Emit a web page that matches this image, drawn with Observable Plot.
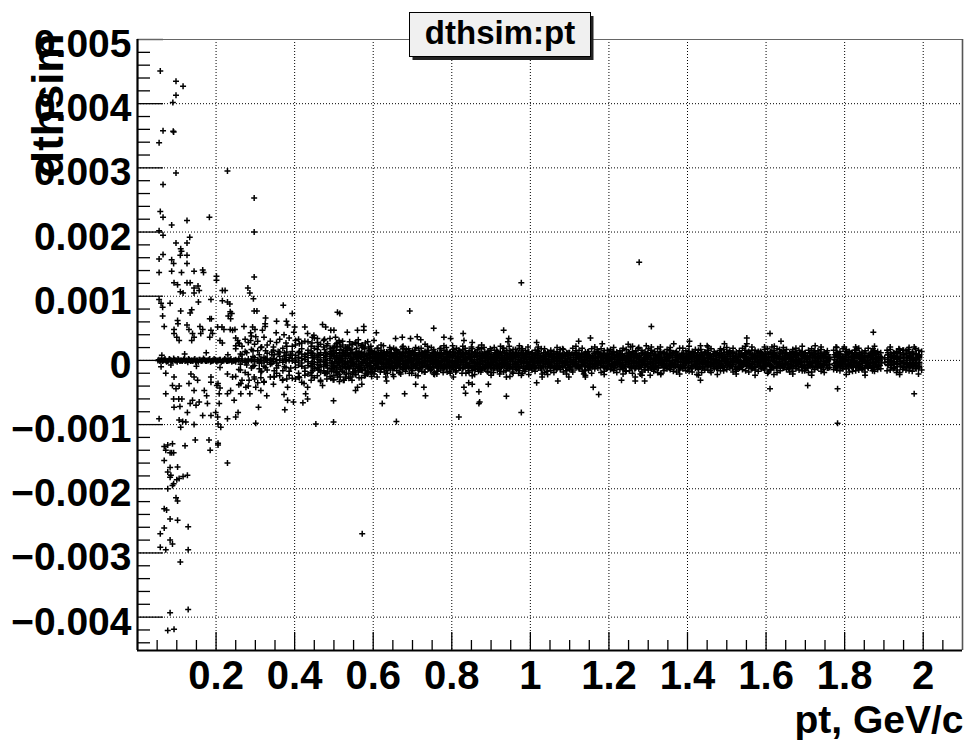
<!DOCTYPE html>
<html>
<head>
<meta charset="utf-8">
<script src="https://cdn.jsdelivr.net/npm/d3@7"></script>
<script src="https://cdn.jsdelivr.net/npm/@observablehq/plot@0.6"></script>
<style>
  html, body { margin: 0; padding: 0; background: white; }
  #chart { width: 965px; height: 740px; }
</style>
</head>
<body>
<div id="chart"></div>
<script>
// ---- Data (dthsim values stored in units of 1e-5) ----
const titleText = "dthsim:pt";
const xTitle = "pt, GeV/c";
const yTitle = "dthsim";
const xDomain = [0, 2.1];
const yDomain = [-0.00452, 0.005];
const xMajorTicks = [0.2, 0.4, 0.6, 0.8, 1.0, 1.2, 1.4, 1.6, 1.8, 2.0];
const xMinorTicks = [0.05, 0.1, 0.15, 0.25, 0.3, 0.35, 0.45, 0.5, 0.55, 0.65, 0.7, 0.75, 0.85, 0.9, 0.95, 1.05, 1.1, 1.15, 1.25, 1.3, 1.35, 1.45, 1.5, 1.55, 1.65, 1.7, 1.75, 1.85, 1.9, 1.95, 2.05];
const yMajorTicks = [-0.004, -0.003, -0.002, -0.001, 0, 0.001, 0.002, 0.003, 0.004, 0.005];
const yMinorTicks = [-0.0044, -0.0042, -0.0038, -0.0036, -0.0034, -0.0032, -0.0028, -0.0026, -0.0024, -0.0022, -0.0018, -0.0016, -0.0014, -0.0012, -0.0008, -0.0006, -0.0004, -0.0002, 0.0002, 0.0004, 0.0006, 0.0008, 0.0012, 0.0014, 0.0016, 0.0018, 0.0022, 0.0024, 0.0026, 0.0028, 0.0032, 0.0034, 0.0036, 0.0038, 0.0042, 0.0044, 0.0046, 0.0048];

// isolated points [pt, dthsim*1e5]
const sparsePoints = [
[0.058,451],[0.098,435],[0.116,427],[0.098,413],[0.090,402],[0.065,358],[0.091,357],[0.092,356],[0.055,339],[0.098,292],
[0.229,295],[0.065,274],[0.297,253],[0.058,232],[0.065,223],[0.126,218],[0.183,223],[0.087,211],[0.055,202],[0.065,195],
[0.297,200],[0.098,183],[0.126,183],[0.133,192],[0.110,174],[0.065,165],[0.055,158],[0.112,170],[0.109,164],[0.087,157],
[0.092,151],[0.126,164],[0.126,151],[0.055,137],[0.087,139],[0.112,137],[0.144,139],[0.166,141],[0.168,137],[0.093,121],
[0.102,118],[0.126,121],[0.134,121],[0.154,116],[0.157,109],[0.109,107],[0.116,105],[0.144,113],[0.144,105],[0.201,131],
[0.201,125],[0.297,130],[0.281,113],[0.286,105],[0.295,96],[0.216,109],[0.223,109],[0.216,93],[0.229,91],[0.235,88],
[0.187,95],[0.055,95],[0.060,89],[0.083,89],[0.155,91],[0.064,83],[0.138,79],[0.134,74],[0.110,77],[0.297,77],
[0.304,77],[0.371,86],[0.394,73],[0.236,76],[0.240,73],[0.064,69],[0.068,53],[0.102,62],[0.103,57],[0.093,48],
[0.126,55],[0.131,48],[0.184,65],[0.188,65],[0.231,69],[0.237,65],[0.326,66],[0.325,57],[0.354,61],[0.379,61],
[0.159,53],[0.166,48],[0.161,42],[0.204,52],[0.215,52],[0.220,48],[0.236,48],[0.242,47],[0.248,48],[0.271,53],
[0.293,52],[0.299,48],[0.325,53],[0.318,47],[0.382,55],[0.400,52],[0.398,44],[0.353,43],[0.373,40],[0.288,43],
[0.301,37],[0.288,31],[0.093,42],[0.100,36],[0.106,31],[0.140,42],[0.144,36],[0.138,31],[0.187,47],[0.191,42],
[0.184,36],[0.210,31],[0.216,27],[0.255,31],[0.259,26],[0.250,23],[0.426,52],[0.433,42],[0.445,36],[0.449,39],
[0.458,34],[0.471,56],[0.479,52],[0.492,47],[0.509,75],[0.515,73],[0.500,47],[0.504,36],[0.513,31],[0.534,44],
[0.560,47],[0.576,53],[0.576,47],[0.608,43],[0.602,31],[0.693,77],[0.754,50],[0.657,34],[0.674,36],[0.695,34],
[0.712,37],[0.721,32],[0.780,36],[0.797,34],
[0.060,-10],[0.072,-20],[0.093,-26],[0.089,-39],[0.098,-44],[0.106,-40],[0.072,-52],[0.092,-60],[0.105,-60],[0.113,-60],
[0.108,-72],[0.093,-73],[0.136,-21],[0.144,-26],[0.153,-31],[0.131,-36],[0.144,-47],[0.140,-62],[0.127,-81],[0.134,-67],
[0.157,-65],[0.149,-70],[0.055,-91],[0.106,-93],[0.115,-95],[0.110,-104],[0.123,-96],[0.144,-100],[0.166,-86],[0.187,-86],
[0.178,-67],[0.170,-47],[0.176,-55],[0.187,-34],[0.187,-26],[0.202,-39],[0.205,-36],[0.210,-43],[0.208,-52],[0.199,-81],
[0.204,-88],[0.205,-99],[0.212,-104],[0.229,-91],[0.250,-88],[0.256,-81],[0.208,-67],[0.229,-52],[0.237,-47],[0.246,-62],
[0.263,-52],[0.276,-42],[0.286,-52],[0.229,-21],[0.242,-26],[0.263,-36],[0.284,-31],[0.297,-26],[0.301,-42],[0.314,-47],
[0.322,-34],[0.329,-55],[0.308,-73],[0.301,-98],[0.348,-26],[0.369,-31],[0.382,-42],[0.373,-53],[0.382,-62],[0.375,-77],
[0.397,-65],[0.411,-26],[0.424,-36],[0.433,-42],[0.428,-52],[0.433,-60],[0.421,-66],[0.454,-99],[0.466,-31],[0.471,-39],
[0.499,-63],[0.499,-96],[0.509,-26],[0.526,-31],[0.543,-26],[0.560,-42],[0.571,-37],[0.555,-47],[0.610,-26],[0.632,-26],
[0.634,-32],[0.623,-67],[0.634,-55],[0.659,-95],[0.670,-21],[0.680,-52],[0.708,-37],[0.729,-42],[0.733,-55],[0.754,-21],
[0.818,-88],
[0.068,-134],[0.072,-140],[0.089,-130],[0.087,-144],[0.068,-156],[0.077,-174],[0.085,-179],[0.102,-166],[0.106,-184],[0.121,-133],
[0.147,-124],[0.182,-124],[0.205,-129],[0.205,-132],[0.185,-140],[0.229,-160],[0.077,-132],[0.083,-144],[0.092,-144],[0.083,-167],
[0.083,-182],[0.100,-186],[0.092,-192],[0.089,-195],[0.116,-181],[0.127,-179],[0.077,-200],[0.098,-214],[0.102,-219],[0.068,-231],
[0.074,-233],[0.083,-247],[0.102,-249],[0.129,-259],[0.068,-261],[0.058,-270],[0.083,-280],[0.089,-286],[0.058,-291],[0.072,-295],
[0.129,-295],[0.109,-314],[0.572,-270],[0.083,-393],[0.129,-388],[0.077,-421],[0.093,-419],
[0.977,121],[1.277,153],[1.308,53],[0.829,42],[0.932,47],[0.945,34],[0.943,29],[0.852,28],[0.831,31],[1.016,28],
[1.123,30],[1.153,35],[1.183,26],[1.249,25],[1.255,21],[1.295,23],[1.331,21],[1.365,26],[1.405,30],[1.433,23],
[1.450,23],[1.494,26],[1.551,35],[1.551,26],[1.610,42],[1.615,21],
[0.831,-42],[0.835,-51],[0.843,-35],[0.852,-37],[0.869,-49],[0.871,-65],[0.869,-67],[0.893,-37],[0.939,-56],[0.939,-26],
[0.977,-81],[0.977,-23],[1.016,-35],[1.030,-21],[1.030,-26],[1.070,-32],[1.098,-26],[1.136,-21],[1.140,-26],[1.160,-42],
[1.174,-53],[1.232,-31],[1.267,-32],[1.267,-26],[1.280,-21],[1.291,-32],[1.305,-23],[1.424,-22],[1.433,-31],[1.610,-44],
[1.606,-18],
[1.638,30],[1.621,22],[1.564,21],[1.668,17],[1.725,23],[1.778,21],[1.799,21],[1.831,18],[1.873,44],[1.872,18],
[1.938,18],[1.962,17],[1.977,21],[1.706,-39],[1.782,-44],[1.782,-98],[1.871,-16],[1.977,-52]
];

// low-pt points sitting on dthsim = 0 [pt, dthsim*1e5]
const zeroLinePoints = [
[0.052,0],[0.057,-1],[0.061,1],[0.066,0],[0.070,2],[0.074,-2],[0.079,0],[0.083,1],[0.088,-1],[0.092,3],
[0.096,0],[0.101,-2],[0.105,1],[0.110,0],[0.114,-1],[0.119,2],[0.123,0],[0.128,-3],[0.132,1],[0.137,0],
[0.141,-1],[0.146,2],[0.150,0],[0.155,-2],[0.159,1],[0.164,0],[0.168,3],[0.173,-1],[0.177,0],[0.182,1],
[0.186,-2],[0.191,0],[0.195,2],[0.200,-1],[0.204,0],[0.209,1],[0.213,-3],[0.218,0],[0.222,2],[0.227,-1],
[0.231,0],[0.236,1],[0.240,-2],[0.245,0],
[0.0545,1],[0.059,0],[0.0635,-1],[0.068,1],[0.072,0],[0.077,-1],[0.081,2],[0.086,0],[0.090,-1],[0.094,1],
[0.099,0],[0.103,2],[0.108,-1],[0.112,0],[0.117,1],[0.121,-1],[0.126,0],[0.130,2],[0.135,-1],[0.139,0],
[0.144,1],[0.148,-2],[0.153,0],[0.157,1],[0.162,-1],[0.166,0],[0.171,1],[0.175,-1],[0.180,0],[0.184,2],
[0.189,-1],[0.193,0],[0.198,1],[0.202,-2],[0.207,0],[0.211,1],[0.216,-1],[0.220,0],[0.225,1],[0.229,-1],
[0.234,0],[0.238,2],[0.243,-1],[0.247,0],
[0.062,8],[0.085,-7],[0.120,10],[0.150,-9],[0.175,12],[0.210,-11],[0.230,9]
];

// dense band: each entry "pt  dthsim*1e5 values..."
const bandColumns = [
"0.250 1 -2 18 -25 35","0.258 0 3 -14 27 -38","0.266 -1 2 22 -31 9","0.274 0 -3 -19 33 14","0.282 2 -1 28 -22 -40",
"0.290 0 1 -12 17 38","0.298 -2 4 25 -29 -8","0.306 1 -1 -35 15 30","0.314 0 2 20 -18 -27","0.322 -1 5 -9 36 -33",
"0.330 2 -3 24 -15 11","0.338 0 1 -26 30 -6","0.346 -2 3 16 -37 21","0.354 1 -4 -20 28 -12","0.362 0 6 33 -24 13",
"0.370 -3 2 -16 19 -30","0.378 1 -1 27 -11 8","0.386 0 4 -23 35 -17","0.394 -1 3 14 -28 22",
"0.402 -3 8 -11 2 24 -29 31","0.410 5 -7 12 -1 -20 33 -26","0.418 -9 3 10 -4 18 -34 27","0.426 6 -12 1 9 -23 30 -17",
"0.434 -2 11 -8 4 29 -21 16","0.442 8 -5 13 -10 -31 22 -19","0.450 -6 2 -13 7 19 -27 35","0.458 10 -3 5 -11 -24 28 17",
"0.466 -1 9 -7 12 25 -33 -18","0.474 4 -10 8 -2 -16 31 21","0.482 -8 6 -4 11 23 -20 -29","0.490 3 -13 9 0 -25 18 34",
"0.498 -5 7 -9 13 20 -30 -15","0.506 11 -2 4 -12 -19 26 16","0.514 -7 5 12 -3 28 -22 -33","0.522 2 -9 -1 10 -17 24 30",
"0.530 -11 7 3 -6 21 -26 15","0.538 6 -4 -12 9 -28 19 -20","0.546 -3 12 -8 1 17 -31 25","0.554 9 -6 5 -13 -22 27 -16",
"0.562 -10 3 11 -2 26 -18 32","0.570 4 -8 -5 12 -15 23 -27","0.578 -1 10 -11 6 19 -24 18","0.586 7 -12 2 -7 -21 29 -17",
"0.594 -4 9 -9 3 22 -19 14",
"0.602 -8 3 11 -2 6 -21","0.610 5 -11 0 9 -5 19","0.618 -3 7 -13 2 12 -18","0.626 10 -6 4 -9 1 23","0.634 -12 2 8 -4 13 -16",
"0.642 6 -1 -10 11 -6 20","0.650 -5 9 3 -13 7 -22","0.658 1 -8 12 -3 5 17","0.666 -10 4 -6 10 0 -19","0.674 8 -12 2 -5 11 21",
"0.682 -2 6 -9 13 -7 -17","0.690 11 -4 5 -11 1 18","0.698 -7 10 -1 4 -13 -20","0.706 3 -9 8 -6 12 16","0.714 -13 1 6 -3 9 -24",
"0.722 7 -5 -11 10 2 19","0.730 -4 12 0 -8 5 -18","0.738 9 -2 -7 13 -10 22","0.746 -11 5 3 -1 8 -16","0.754 2 -10 11 -5 6 17",
"0.762 -6 8 -12 4 0 -21","0.770 12 -3 7 -9 -2 18","0.778 -1 9 -8 3 -13 -19","0.786 5 -12 1 10 -6 20","0.794 -9 4 -3 12 7 -17",
"0.802 8 -7 13 -1 -11 23","0.810 -2 11 -5 6 -9 -18","0.818 10 -4 2 -12 5 16","0.826 -7 1 9 -3 12 -20","0.834 3 -10 -6 11 0 19",
"0.842 -12 6 4 -8 10 -16","0.850 7 -2 -11 1 13 21","0.858 -5 12 -9 5 -3 -22","0.866 1 -7 8 -13 6 17","0.874 -10 3 11 -4 -1 -18",
"0.882 9 -6 0 7 -12 20","0.890 -3 10 -8 2 12 -17","0.898 6 -11 5 -5 1 18","0.906 -13 4 -2 9 -7 -19","0.914 11 -1 7 -10 3 16",
"0.922 -6 8 -12 0 10 -21","0.930 2 -9 13 -3 -6 19","0.938 -8 5 -4 11 1 -16","0.946 10 -13 3 -7 6 22","0.954 -1 7 -10 4 12 -18",
"0.962 4 -5 9 -12 -2 17","0.970 -11 12 1 -6 8 -20","0.978 7 -3 -9 10 -1 18","0.986 -4 9 5 -13 2 -17","0.994 12 -8 -2 6 -10 21",
"1.002 -6 3 10 -11 1","1.010 8 -2 -9 5 -13","1.018 -1 11 -5 2 16","1.026 4 -8 7 -12 0","1.034 -10 1 12 -4 6",
"1.042 9 -6 -1 3 -17","1.050 -3 7 -11 10 -7","1.058 2 -12 5 -2 11","1.066 -8 4 0 9 -14","1.074 11 -5 -8 2 6",
"1.082 -4 9 3 -10 18","1.090 6 -1 -12 7 -3","1.098 -11 2 8 -6 12","1.106 1 -9 10 -3 -15","1.114 -5 12 -2 4 -8",
"1.122 7 -7 3 -11 9","1.130 -2 5 -10 11 0","1.138 10 -4 1 -8 -16","1.146 -9 8 -5 2 13","1.154 3 -12 6 -1 -6",
"1.162 -6 0 11 -9 4","1.170 12 -3 -7 5 17","1.178 -1 6 -11 9 -4","1.186 5 -10 2 -5 11","1.194 -12 3 8 -2 -13",
"1.202 4 -6 -1 10","1.210 -7 9 -9 1 14","1.218 8 -2 4 -12 -5","1.226 -3 11 -6 6 0","1.234 0 -8 9 -11 15",
"1.242 -10 5 -3 2 -16","1.250 6 -1 12 -7 3","1.258 -5 10 -9 0 -12","1.266 9 -4 2 -13 7","1.274 -2 7 -8 5 18",
"1.282 1 -11 11 -3 -6","1.290 -8 4 -1 9 -14","1.298 11 -6 6 -10 1","1.306 -4 2 -12 8 12","1.314 7 -9 3 -2 -17",
"1.322 -11 8 0 4 -5","1.330 3 -3 10 -8 13","1.338 -6 12 -5 1 -11","1.346 10 -1 -10 6 2","1.354 -1 5 8 -12 16",
"1.362 5 -7 -3 11 -4","1.370 -9 1 12 -6 7","1.378 8 -10 -2 3 -15","1.386 -3 9 4 -9 11","1.394 2 -5 -11 7 0",
"1.402 -12 6 1 -4 14","1.410 6 -2 9 -8 -13","1.418 -7 11 -6 2 5","1.426 12 -4 3 -11 -1","1.434 -2 8 -9 5 17",
"1.442 4 -12 0 10 -6","1.450 -10 3 7 -3 12","1.458 9 -7 -4 1 -16","1.466 -5 10 2 -10 6","1.474 1 -1 -12 8 -3",
"1.482 -8 5 11 -5 15","1.490 7 -11 -2 4 -9","1.498 -4 2 9 -7 1","1.506 11 -6 -8 3 13","1.514 -1 12 -3 -12 6",
"1.522 3 -9 6 0 -14","1.530 -11 7 1 -4 10","1.538 8 -3 -10 11 -6","1.546 -6 9 4 -1 16","1.554 0 -8 12 -9 2",
"1.562 -9 4 -5 7 -12","1.570 10 -2 3 -11 8","1.578 -3 11 -7 5 -1","1.586 5 -10 1 -4 14","1.594 -12 6 8 -2 -7",
"1.602 2 -5 -9 10 4","1.610 -7 12 0 -6 -15","1.618 9 -1 5 -10 11","1.626 -4 7 -12 3 -3","1.634 6 -9 2 -2 17",
"1.642 -10 3 10 -7 -5","1.650 1 -4 -6 12 7","1.658 -5 8 4 -11 -13","1.666 11 -12 -1 6 1","1.674 -2 5 9 -8 13",
"1.682 7 -6 -10 2 -4","1.690 -11 10 3 -3 9","1.698 4 -2 -7 11 -16","1.706 -8 6 1 -12 5","1.714 12 -5 -3 7 -9",
"1.722 -1 9 -11 4 15","1.730 3 -10 6 -4 -2","1.738 -6 2 11 -9 8","1.746 8 -7 -1 5 -14","1.754 -3 12 -8 0 3",
"1.762 5 -11 2 -6","1.778 -9 7 -3 10 -12","1.786 10 -1 4 -8 6","1.794 -4 6 -12 2 -5","1.802 0 -9 9 -2 14",
"1.810 -12 4 -6 11 1","1.818 6 -3 12 -10 -7","1.826 -7 10 -1 3 16","1.834 9 -8 5 -5 -12","1.842 -2 1 -11 8 4",
"1.850 4 -12 7 -1 11","1.858 -10 5 0 -6 -3","1.866 11 -4 -9 9 2","1.874 -5 8 3 -12 13","1.882 2 -7 10 -3 -10",
"1.890 -8 0 6","1.910 -3 9 -6 1 12","1.918 7 -11 2 -8 -2","1.926 -12 4 11 -4 6","1.934 5 -6 -2 10 -15",
"1.942 -1 12 -9 3 -5","1.950 9 -3 5 -11 16","1.958 -6 7 -12 0 4","1.966 3 -10 8 -5 -8","1.974 -9 2 -1 11 10",
"1.982 10 -7 4 -3 -13","1.990 -4 6 -10 2 8",
// interleaved columns
"0.262 -6 10 -15","0.278 -7 12 -2","0.294 -9 6 15","0.310 -4 9 -13","0.326 -11 15 3","0.342 -5 13 9",
"0.358 -8 10 14","0.374 -10 7 12","0.390 -12 10 8",
"0.446 -2 4 -9 11 -16","0.462 -7 8 1 -12 -15","0.478 -6 12 -3 1 -20","0.494 -4 6 -7 11 -17",
"0.502 2 -11 8 -2 22","0.510 -8 7 -5 1 -21","0.518 3 -12 8 -1 17",
"0.526 -6 6 12 -4 -19","0.534 9 -2 -9 12 20","0.542 -7 3 11 -1 16","0.550 5 -10 7 -5 -18","0.558 -1 11 -9 2 19",
"0.566 6 -7 -12 8 -15","0.574 -3 10 1 -11 21","0.582 8 -5 3 -8 -20","0.590 -9 11 -3 4 16","0.598 5 -1 12 -12 -17",
"0.606 4 -6 10 -12 0","0.614 -9 2 7 -3 12","0.622 6 -10 -1 11 -5","0.630 -4 8 -12 3 9","0.638 11 -7 1 -2 -11",
"0.646 -1 4 -8 12 -5","0.654 8 -12 6 -3 10","0.662 -6 11 -4 2 -9","0.670 3 -2 9 -10 6","0.678 -11 7 0 -6 12",
"0.686 5 -9 11 -1 -4","0.694 -3 3 -12 8 10","0.702 12 -6 2 -9 -1","0.710 -8 9 -5 6 1","0.718 2 -11 12 -2 -7",
"0.726 -5 6 -3 11 -10","0.734 10 -1 -9 4 7","0.742 -12 8 3 -6 0","0.750 6 -4 12 -11 -2","0.758 -2 11 -7 1 9",
"0.766 9 -9 4 -5 -12","0.774 -7 3 10 -1 6","0.782 1 -6 -11 12 3","0.790 -10 10 6 -4 -1","0.798 4 -2 -8 9 -12",
"0.806 -5 12 0 -10 7","0.814 11 -8 -3 3 -6","0.822 -3 6 10 -12 1","0.830 7 -11 -1 5 11","0.838 -9 2 12 -6 -3",
"0.846 3 -5 -10 9 6","0.854 -12 10 1 -2 -8","0.862 8 -3 6 -9 12","0.870 -6 11 -5 2 -11","0.878 4 -1 -12 10 7",
"0.886 -11 7 3 -7 0","0.894 10 -10 -4 5 11","0.902 -1 3 9 -12 -6","0.910 6 -8 -3 12 1","0.918 -9 10 4 -5 -10",
"0.926 5 -4 -11 8 2","0.934 -3 12 0 -9 7","0.942 9 -7 -5 3 -12","0.950 -10 1 11 -2 6","0.958 2 -11 7 -6 10",
"0.966 -7 6 -3 12 -9","0.974 12 -2 4 -10 0","0.982 -5 10 -12 3 8","0.990 6 -9 1 -4 11","0.998 -2 4 -7 9 -11",
"1.006 5 -8 1 -3 10","1.014 -5 9 -11 3","1.022 7 -3 -8 11 0","1.030 -9 4 -2 8","1.038 2 -10 6 -5 12",
"1.046 -6 10 -3 1","1.054 9 -1 -9 5 -4","1.062 -11 6 3 -7","1.070 4 -5 10 -1 -9","1.078 -2 8 -11 5",
"1.086 10 -7 0 -4 6","1.094 -8 11 -3 3","1.102 5 -2 -10 8 -6","1.110 -3 9 -6 1","1.118 11 -9 4 -2 7",
"1.126 -7 2 -12 6","1.134 6 -6 9 -3 -1","1.142 -1 10 -8 4","1.150 8 -4 0 -11 5","1.158 -10 7 3 -5",
"1.166 3 -1 -9 10 -6","1.174 -5 11 6 -2","1.182 9 -8 -3 4 0","1.190 -4 5 -11 8","1.198 1 -7 10 -1 6",
"1.206 -9 3 -5 11","1.214 7 -11 5 -3 -8","1.222 -2 9 -7 2","1.230 10 -5 1 -9 4","1.238 -6 7 -12 3",
"1.246 2 -3 8 -6 11","1.254 -11 10 -2 5","1.262 5 -9 -5 9 -1","1.270 -7 4 11 -4","1.278 8 -1 -10 2 6",
"1.286 -3 11 -6 0","1.294 6 -8 3 -5 10","1.302 -10 5 8 -2","1.310 1 -4 -11 11 -7","1.318 -5 9 2 -9",
"1.326 9 -12 -3 6 4","1.334 -1 7 -8 1","1.342 11 -6 5 -10 -2","1.350 -8 3 -1 9","1.358 4 -9 10 -4 -6",
"1.366 -6 11 0 -11","1.374 7 -2 -7 5 9","1.382 -11 6 2 -3","1.390 3 -7 11 -1 -9","1.398 -4 10 -5 6",
"1.406 10 -11 -2 3 7","1.414 -2 4 -9 12","1.422 6 -6 8 -1 -10","1.430 -9 9 1 -5","1.438 2 -3 -12 7 5",
"1.446 -6 12 -4 0","1.454 8 -8 5 -2 10","1.462 -3 6 -10 3","1.470 11 -1 1 -7 -5","1.478 -10 8 4 -4",
"1.486 5 -9 -6 10 0","1.494 -1 3 12 -11","1.502 9 -5 -2 6 -8","1.510 -7 10 -9 2","1.518 3 -2 7 -6 11",
"1.526 -12 5 0 -3","1.534 6 -10 10 -1 -5","1.542 -4 8 -7 4","1.550 10 -3 2 -9 6","1.558 -8 11 -5 1",
"1.566 4 -6 9 -12 -2","1.574 -2 2 -10 7","1.582 7 -9 5 -4 12","1.590 -10 9 -1 3","1.598 1 -4 11 -7 -9",
"1.606 -6 10 -3 5","1.614 9 -11 -8 2 6","1.622 -3 5 12 -2","1.630 5 -7 -4 8 -10","1.638 -9 11 1 -5",
"1.646 11 -1 -11 4 3","1.654 -5 7 -7 9","1.662 3 -10 6 -2 -6","1.670 -8 2 10 -4","1.678 8 -4 -9 11 0",
"1.686 -1 12 -5 1","1.694 6 -8 3 -10 9","1.702 -11 4 -2 7","1.710 2 -6 11 -3 -8","1.718 -4 9 -10 5",
"1.726 10 -3 0 -7 6","1.734 -7 11 4 -1","1.742 4 -9 -5 8 -11","1.750 -2 6 10 -6","1.758 9 -12 -1 3",
"1.774 -5 5 -8 9 1","1.782 7 -2 11 -10","1.790 -10 10 -4 3 -6","1.798 2 -7 6 -1","1.806 -6 9 -9 12 4",
"1.814 11 -4 1 -8","1.822 -3 7 -11 5 -1","1.830 6 -10 9 -3","1.838 -9 3 -6 10 12","1.846 1 -5 -12 7",
"1.854 -4 11 4 -2 -8","1.862 8 -8 -3 6","1.870 -11 5 10 -5 1","1.878 3 -2 -7 11","1.886 -7 9 -10 4 -1",
"1.894 5 -4 2","1.902 -3 4","1.910 -8 4 9 -2","1.918 10 -6 -4 6 0","1.926 -2 8 -11 3","1.934 6 -9 1 -5 11",
"1.942 -10 3 7 -2","1.950 4 -7 -9 10 -1","1.958 -5 11 2 -4","1.966 8 -3 -11 6 5","1.974 -12 7 -6 1",
"1.982 1 -5 10 -8 3","1.990 -7 9 -3 5"
];

// band fringe: points at the upper / lower edge of the band
const bandEdgeColumns = [
"0.316 -17 21 -4","0.348 -25 9 -16","0.380 -29 13 22",
"0.412 -27 14 26","0.444 -24 11 27","0.460 -15 22 8","0.476 -20 17 33","0.484 26 -12 -18",
"0.492 -28 19 14","0.500 15 -23 -30","0.508 -17 27 21","0.516 22 -14 -26","0.524 -31 16 12","0.532 18 -21 -13",
"0.540 -13 29 24","0.548 25 -18 -22","0.556 -22 13 28","0.564 14 -27 -12","0.572 -16 24 20","0.580 27 -15 -23",
"0.588 -19 21 13","0.596 16 -25 -14",
"0.604 14 -17","0.612 -13 19","0.620 16 -14 24","0.628 -18 13","0.636 12 -20","0.644 -15 17","0.652 19 -12 -25",
"0.660 -16 15","0.668 13 -19","0.676 -14 18 22","0.684 17 -13","0.692 -20 14","0.700 15 -16","0.708 -12 20 -23",
"0.716 18 -15","0.724 -17 12","0.732 14 -18 25","0.740 -13 16","0.748 20 -14","0.756 -19 13 -22","0.764 12 -17",
"0.772 -15 19","0.780 16 -12 23","0.788 -18 14","0.796 13 -20","0.804 -14 17 -26","0.812 19 -16","0.820 -12 15",
"0.828 17 -13 22","0.836 -20 12","0.844 15 -19","0.852 -16 18 -24","0.860 12 -14","0.868 -17 20","0.876 18 -15 24",
"0.884 -13 13","0.892 14 -18","0.900 -19 16 -23","0.908 20 -12","0.916 -15 14","0.924 13 -17 22","0.932 -18 19",
"0.940 16 -13","0.948 -12 15 -25","0.956 17 -20","0.964 -14 12","0.972 19 -16 23","0.980 -20 18","0.988 15 -14",
"0.996 -13 13 -22","1.004 12 -15","1.012 -17 16","1.020 14 -12 21","1.028 -15 18","1.036 18 -19","1.044 -12 13 -22",
"1.052 16 -16","1.060 -19 14","1.068 13 -13 20","1.076 -14 17","1.084 17 -18","1.092 -16 12 -21","1.100 12 -14",
"1.108 -18 19","1.116 15 -12 22","1.124 -13 16","1.132 19 -17","1.140 -15 13 -23","1.148 14 -15","1.156 -20 18",
"1.164 13 -13 21","1.172 -12 14","1.180 18 -19","1.188 -17 15 -22","1.196 16 -12","1.204 -14 17","1.212 12 -16 20",
"1.220 -19 13","1.228 15 -14","1.236 -13 19 -21","1.244 17 -17","1.252 -16 12","1.260 14 -20 22","1.268 -12 15",
"1.276 20 -13","1.284 -18 16 -23","1.292 13 -15","1.300 -15 18","1.308 16 -12 21","1.316 -14 14","1.324 18 -19",
"1.332 -20 13 -22","1.340 12 -16","1.348 -13 17","1.356 15 -14 20","1.364 -17 12","1.372 14 -18","1.380 -12 19 -21",
"1.388 19 -13","1.396 -16 15","1.404 13 -17 22","1.412 -18 14","1.420 17 -12","1.428 -14 16 -23","1.436 12 -19",
"1.444 -15 13","1.452 16 -15 21","1.460 -19 18","1.468 14 -13","1.476 -13 12 -22","1.484 18 -16","1.492 -16 17",
"1.500 13 -14 20","1.508 -12 15","1.516 19 -18","1.524 -17 13 -21","1.532 15 -12","1.540 -14 19","1.548 12 -16 22",
"1.556 -18 14","1.564 16 -13","1.572 -15 16 -23","1.580 14 -17","1.588 -13 12","1.596 17 -15 21","1.604 -20 18",
"1.612 13 -14","1.620 -12 15 -22","1.628 18 -19","1.636 -16 13","1.644 15 -12 20","1.652 -14 17","1.660 12 -18",
"1.668 -17 14 -21","1.676 19 -13","1.684 -15 16","1.692 14 -16 22","1.700 -13 12","1.708 16 -19","1.716 -18 18 -23",
"1.724 13 -14","1.732 -12 15","1.740 17 -17 21","1.748 -19 13","1.756 15 -12","1.772 -14 16","1.780 12 -15 20",
"1.788 -16 14","1.796 18 -13","1.804 -13 17 -22","1.812 14 -18","1.820 -17 12","1.828 16 -16 21","1.836 -15 19",
"1.844 13 -14","1.852 -18 15 -23","1.860 19 -12","1.868 -12 13","1.876 15 -17 22","1.884 -14 14","1.892 12 -13",
"1.908 -16 16","1.916 17 -15 21","1.924 -13 12","1.932 14 -19","1.940 -19 17 -22","1.948 16 -14","1.956 -15 15",
"1.964 13 -16 20","1.972 -17 13","1.980 18 -12","1.988 -12 16 -21","1.996 14 -15"
];

// ---- Build table ----
const UNIT = 1e-5;
const parseColumns = cols => cols.flatMap(s => {
  const [pt, ...vals] = s.trim().split(/\s+/).map(Number);
  return vals.map(v => ({pt, dthsim: v * UNIT}));
});
const points = [
  ...sparsePoints.map(([pt, v]) => ({pt, dthsim: v * UNIT})),
  ...zeroLinePoints.map(([pt, v]) => ({pt, dthsim: v * UNIT})),
  ...parseColumns(bandColumns),
  ...parseColumns(bandEdgeColumns)
];

// thin "+" marker like ROOT marker style 2
const plusSymbol = {
  draw(ctx, size) {
    const r = Math.sqrt(size / Math.PI);
    ctx.moveTo(-r, 0); ctx.lineTo(r, 0);
    ctx.moveTo(0, -r); ctx.lineTo(0, r);
  }
};

const W = 965, H = 740;
const mL = 137, mR = 3, mT = 39, mB = 90;
const frameW = W - mL - mR, frameH = H - mT - mB;
const font = "'Liberation Sans', Arial, Helvetica, sans-serif";

const yFmt = d => d === 0 ? "0" : d3.format(".3f")(d);
const xFmt = d => String(+d.toFixed(1));

const chart = Plot.plot({
  width: W,
  height: H,
  marginLeft: mL,
  marginRight: mR,
  marginTop: mT,
  marginBottom: mB,
  style: {fontFamily: font, fontWeight: "bold", background: "white", color: "black", overflow: "visible"},
  x: {domain: xDomain},
  y: {domain: yDomain},
  marks: [
    Plot.gridX(xMajorTicks, {stroke: "black", strokeOpacity: 1, strokeWidth: 1, strokeDasharray: "1,2"}),
    Plot.gridY(yMajorTicks, {stroke: "black", strokeOpacity: 1, strokeWidth: 1, strokeDasharray: "1,2"}),
    Plot.dot(points, {x: "pt", y: "dthsim", symbol: plusSymbol, r: 3, stroke: "black", strokeWidth: 1.5, fill: "none"}),
    // ticks inside the frame
    Plot.ruleX(xMajorTicks, {stroke: "black", strokeWidth: 1.3, insetTop: frameH - 18}),
    Plot.ruleX(xMinorTicks, {stroke: "black", strokeWidth: 1.3, insetTop: frameH - 10}),
    Plot.ruleY(yMajorTicks, {stroke: "black", strokeWidth: 1.3, insetRight: frameW - 26}),
    Plot.ruleY(yMinorTicks, {stroke: "black", strokeWidth: 1.3, insetRight: frameW - 13}),
    // frame
    Plot.ruleY([yDomain[1]], {stroke: "#666", strokeWidth: 1}),
    Plot.ruleX([xDomain[1]], {stroke: "#555", strokeWidth: 1.6}),
    Plot.ruleX([xDomain[0]], {stroke: "black", strokeWidth: 2.2}),
    Plot.ruleY([yDomain[0]], {stroke: "black", strokeWidth: 2.2}),
    // axes labels
    Plot.axisX({ticks: xMajorTicks, tickSize: 0, tickPadding: 10, fontSize: 40, fontWeight: "bold", label: null, anchor: "bottom", tickFormat: xFmt}),
    Plot.axisY({ticks: yMajorTicks, tickSize: 0, tickPadding: 6, fontSize: 39, fontWeight: "bold", label: null, anchor: "left", tickFormat: yFmt, dy: 5}),
    // titles
    Plot.text([yTitle], {text: d => d, frameAnchor: "top-left", dx: 62 - mL, dy: 33 - mT, rotate: -90, textAnchor: "end", lineAnchor: "bottom", fontSize: 44, fontWeight: "bold", fill: "black"}),
    Plot.text([xTitle], {text: d => d, frameAnchor: "bottom-right", dx: 1, dy: 732 - (H - mB), textAnchor: "end", lineAnchor: "bottom", fontSize: 39, fontWeight: "bold", fill: "black"})
  ]
});

document.getElementById("chart").appendChild(chart);

// title box (ROOT style pave with shadow)
const svg = d3.select(chart);
const g = svg.append("g").attr("class", "title-pave");
g.append("rect").attr("x", 412.5).attr("y", 16).attr("width", 181).attr("height", 44).attr("fill", "#222");
g.append("rect").attr("x", 409.5).attr("y", 12.5).attr("width", 181).attr("height", 44)
  .attr("fill", "#f0f0f0").attr("stroke", "black").attr("stroke-width", 1);
g.append("text").attr("x", 500).attr("y", 44).attr("text-anchor", "middle")
  .attr("font-family", font).attr("font-weight", "bold").attr("font-size", 33).attr("fill", "black")
  .text(titleText);
</script>
</body>
</html>
